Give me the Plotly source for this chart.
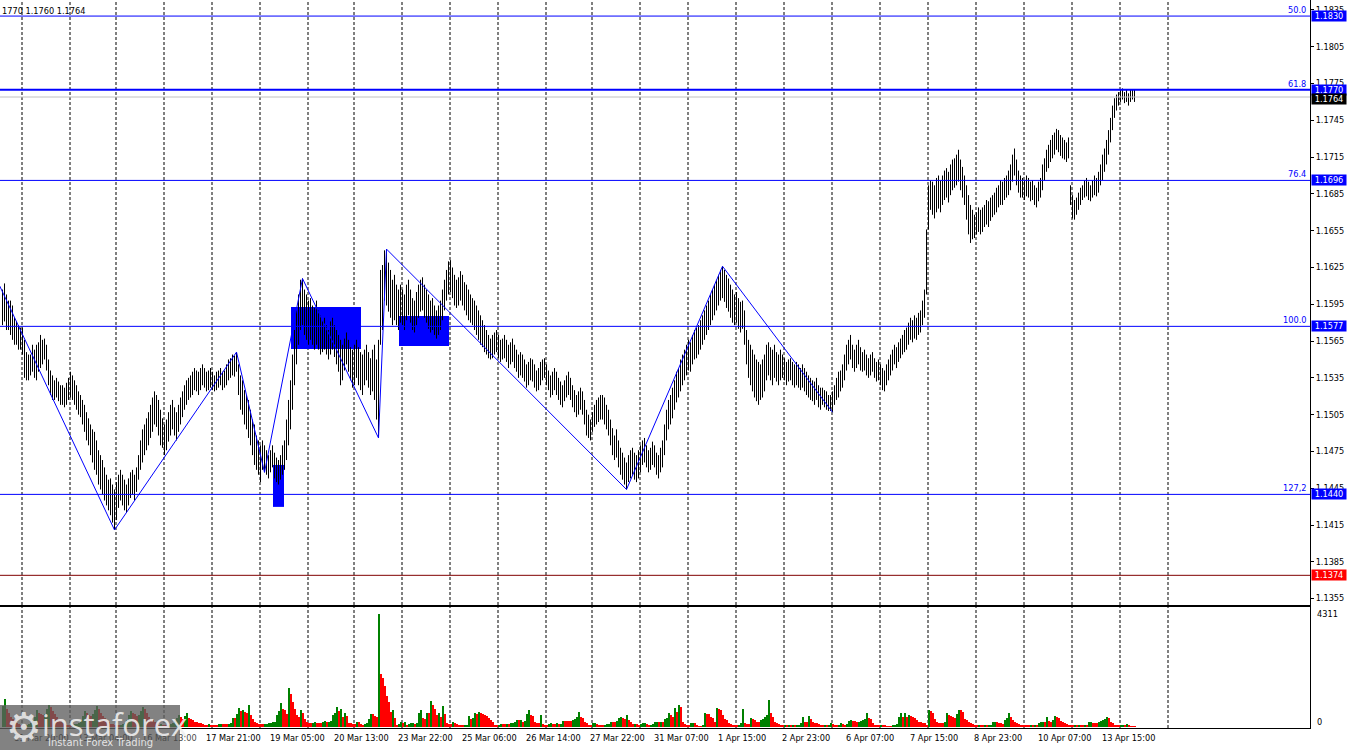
import plotly.graph_objects as go

# ---------------- data (EURUSD H1) ----------------
HIGH = [
1.1607,1.1612,1.1603,1.1598,1.1598,1.1594,1.1584,1.1581,1.1578,1.1576,
1.1576,1.1566,1.1556,1.1554,1.1554,1.1562,1.1558,1.1562,1.1564,1.1570,
1.1566,1.1567,1.1562,1.1550,1.1541,1.1537,1.1533,1.1535,1.1532,1.1529,
1.1529,1.1527,1.1531,1.1535,1.1540,1.1537,1.1533,1.1529,1.1524,1.1521,
1.1517,1.1513,1.1507,1.1502,1.1497,1.1493,1.1491,1.1484,1.1476,1.1472,
1.1468,1.1462,1.1456,1.1452,1.1453,1.1448,1.1444,1.1450,1.1456,1.1460,
1.1456,1.1452,1.1448,1.1453,1.1458,1.1460,1.1456,1.1462,1.1472,1.1484,
1.1493,1.1497,1.1502,1.1507,1.1513,1.1519,1.1524,1.1521,1.1517,1.1509,
1.1502,1.1497,1.1501,1.1507,1.1513,1.1517,1.1511,1.1507,1.1513,1.1519,
1.1524,1.1529,1.1533,1.1535,1.1537,1.1540,1.1543,1.1541,1.1540,1.1543,
1.1546,1.1543,1.1540,1.1541,1.1543,1.1540,1.1537,1.1540,1.1541,1.1543,
1.1540,1.1541,1.1546,1.1550,1.1551,1.1554,1.1553,1.1556,1.1546,1.1537,
1.1533,1.1525,1.1521,1.1517,1.1509,1.1501,1.1497,1.1488,1.1484,1.1480,
1.1484,1.1480,1.1476,1.1472,1.1476,1.1480,1.1474,1.1470,1.1468,1.1472,
1.1480,1.1484,1.1501,1.1517,1.1533,1.1554,1.1574,1.1590,1.1603,1.1615,
1.1616,1.1607,1.1603,1.1598,1.1600,1.1594,1.1592,1.1598,1.1590,1.1586,
1.1582,1.1584,1.1578,1.1574,1.1581,1.1584,1.1578,1.1574,1.1570,1.1566,
1.1562,1.1567,1.1572,1.1566,1.1560,1.1558,1.1562,1.1566,1.1560,1.1556,
1.1554,1.1558,1.1562,1.1556,1.1551,1.1558,1.1562,1.1550,1.1566,1.1623,
1.1627,1.1639,1.1640,1.1629,1.1623,1.1615,1.1619,1.1611,1.1607,1.1611,
1.1607,1.1603,1.1611,1.1615,1.1607,1.1600,1.1598,1.1605,1.1611,1.1615,
1.1617,1.1611,1.1607,1.1603,1.1598,1.1600,1.1594,1.1590,1.1594,1.1598,
1.1607,1.1615,1.1623,1.1630,1.1631,1.1625,1.1619,1.1615,1.1617,1.1622,
1.1619,1.1613,1.1611,1.1607,1.1603,1.1600,1.1598,1.1594,1.1590,1.1586,
1.1582,1.1578,1.1574,1.1570,1.1567,1.1570,1.1572,1.1574,1.1570,1.1566,
1.1567,1.1570,1.1566,1.1562,1.1564,1.1567,1.1562,1.1558,1.1554,1.1556,
1.1554,1.1550,1.1546,1.1548,1.1551,1.1550,1.1546,1.1541,1.1543,1.1548,
1.1550,1.1551,1.1546,1.1541,1.1537,1.1540,1.1543,1.1540,1.1535,1.1532,
1.1529,1.1533,1.1537,1.1540,1.1535,1.1529,1.1525,1.1521,1.1524,1.1527,
1.1524,1.1517,1.1509,1.1505,1.1501,1.1507,1.1513,1.1517,1.1519,1.1521,
1.1521,1.1519,1.1513,1.1509,1.1501,1.1494,1.1488,1.1493,1.1484,1.1478,
1.1474,1.1470,1.1466,1.1472,1.1476,1.1478,1.1474,1.1472,1.1476,1.1480,
1.1484,1.1486,1.1480,1.1476,1.1478,1.1483,1.1480,1.1474,1.1472,1.1478,
1.1484,1.1497,1.1509,1.1517,1.1521,1.1527,1.1533,1.1540,1.1543,1.1550,
1.1554,1.1558,1.1562,1.1566,1.1564,1.1570,1.1574,1.1576,1.1578,1.1582,
1.1586,1.1590,1.1594,1.1598,1.1603,1.1607,1.1611,1.1615,1.1619,1.1623,
1.1626,1.1623,1.1619,1.1616,1.1611,1.1607,1.1603,1.1605,1.1600,1.1597,
1.1598,1.1590,1.1574,1.1566,1.1562,1.1558,1.1554,1.1550,1.1548,1.1546,
1.1550,1.1554,1.1562,1.1564,1.1560,1.1558,1.1562,1.1556,1.1554,1.1558,
1.1554,1.1551,1.1548,1.1550,1.1551,1.1548,1.1546,1.1548,1.1546,1.1543,
1.1546,1.1543,1.1540,1.1537,1.1535,1.1533,1.1532,1.1535,1.1529,1.1527,
1.1527,1.1525,1.1524,1.1521,1.1521,1.1524,1.1529,1.1535,1.1540,1.1541,
1.1546,1.1554,1.1562,1.1566,1.1570,1.1562,1.1558,1.1562,1.1566,1.1560,
1.1556,1.1558,1.1554,1.1551,1.1554,1.1556,1.1551,1.1548,1.1550,1.1546,
1.1543,1.1541,1.1546,1.1550,1.1554,1.1558,1.1562,1.1560,1.1564,1.1567,
1.1570,1.1574,1.1576,1.1580,1.1584,1.1582,1.1586,1.1584,1.1588,1.1590,
1.1598,1.1607,1.1656,1.1692,1.1696,1.1695,1.1692,1.1698,1.1700,1.1696,
1.1700,1.1704,1.1706,1.1703,1.1709,1.1713,1.1714,1.1717,1.1721,1.1713,
1.1707,1.1700,1.1692,1.1684,1.1676,1.1672,1.1668,1.1670,1.1674,1.1672,
1.1674,1.1676,1.1680,1.1679,1.1682,1.1684,1.1686,1.1690,1.1692,1.1696,
1.1695,1.1698,1.1700,1.1704,1.1709,1.1717,1.1722,1.1713,1.1704,1.1700,
1.1698,1.1696,1.1700,1.1698,1.1695,1.1696,1.1692,1.1690,1.1695,1.1698,
1.1709,1.1714,1.1721,1.1725,1.1729,1.1733,1.1735,1.1738,1.1737,1.1733,
1.1731,1.1729,1.1727,1.1731,1.1692,1.1684,1.1680,1.1682,1.1686,1.1690,
1.1692,1.1696,1.1698,1.1695,1.1692,1.1696,1.1700,1.1698,1.1703,1.1709,
1.1717,1.1722,1.1729,1.1737,1.1747,1.1757,1.1763,1.1766,1.1768,1.1770,
1.1771,1.1768,1.1770,1.1767,1.1770,1.1770,1.1770,
]

LOW = [
1.1578,1.1581,1.1574,1.1574,1.1570,1.1566,1.1562,1.1562,1.1558,1.1558,
1.1554,1.1535,1.1533,1.1533,1.1537,1.1540,1.1535,1.1533,1.1540,1.1543,
1.1546,1.1550,1.1541,1.1529,1.1521,1.1517,1.1517,1.1519,1.1516,1.1513,
1.1513,1.1511,1.1513,1.1517,1.1519,1.1517,1.1513,1.1509,1.1505,1.1503,
1.1497,1.1491,1.1484,1.1480,1.1472,1.1466,1.1460,1.1456,1.1448,1.1444,
1.1440,1.1435,1.1431,1.1427,1.1423,1.1417,1.1411,1.1419,1.1429,1.1435,
1.1431,1.1427,1.1425,1.1431,1.1437,1.1440,1.1435,1.1442,1.1452,1.1460,
1.1466,1.1472,1.1476,1.1480,1.1486,1.1491,1.1497,1.1495,1.1488,1.1480,
1.1478,1.1472,1.1476,1.1483,1.1488,1.1493,1.1488,1.1484,1.1491,1.1497,
1.1503,1.1509,1.1513,1.1517,1.1519,1.1521,1.1525,1.1524,1.1521,1.1525,
1.1529,1.1527,1.1524,1.1525,1.1527,1.1525,1.1524,1.1525,1.1527,1.1529,
1.1525,1.1527,1.1529,1.1533,1.1535,1.1537,1.1536,1.1540,1.1521,1.1509,
1.1505,1.1497,1.1493,1.1486,1.1480,1.1472,1.1464,1.1460,1.1456,1.1450,
1.1460,1.1458,1.1456,1.1453,1.1458,1.1462,1.1453,1.1450,1.1448,1.1452,
1.1456,1.1460,1.1468,1.1480,1.1493,1.1509,1.1529,1.1546,1.1562,1.1574,
1.1578,1.1570,1.1566,1.1562,1.1566,1.1562,1.1558,1.1562,1.1558,1.1554,
1.1556,1.1558,1.1554,1.1550,1.1554,1.1558,1.1552,1.1546,1.1540,1.1529,
1.1533,1.1541,1.1546,1.1540,1.1533,1.1527,1.1529,1.1535,1.1529,1.1525,
1.1521,1.1529,1.1533,1.1527,1.1521,1.1524,1.1517,1.1501,1.1486,1.1562,
1.1574,1.1598,1.1594,1.1589,1.1584,1.1578,1.1582,1.1578,1.1574,1.1580,
1.1578,1.1574,1.1582,1.1586,1.1580,1.1574,1.1572,1.1578,1.1584,1.1589,
1.1590,1.1584,1.1580,1.1575,1.1572,1.1574,1.1570,1.1567,1.1570,1.1574,
1.1582,1.1590,1.1598,1.1603,1.1605,1.1600,1.1594,1.1592,1.1594,1.1598,
1.1594,1.1590,1.1586,1.1582,1.1580,1.1578,1.1574,1.1570,1.1566,1.1562,
1.1560,1.1556,1.1554,1.1551,1.1550,1.1551,1.1554,1.1556,1.1551,1.1548,
1.1550,1.1551,1.1548,1.1543,1.1546,1.1548,1.1543,1.1540,1.1535,1.1537,
1.1535,1.1532,1.1527,1.1529,1.1533,1.1532,1.1527,1.1524,1.1525,1.1529,
1.1533,1.1535,1.1529,1.1525,1.1519,1.1521,1.1525,1.1521,1.1517,1.1513,
1.1511,1.1516,1.1519,1.1521,1.1517,1.1511,1.1507,1.1503,1.1505,1.1509,
1.1505,1.1497,1.1488,1.1486,1.1484,1.1491,1.1495,1.1497,1.1499,1.1501,
1.1501,1.1497,1.1493,1.1488,1.1480,1.1472,1.1468,1.1470,1.1462,1.1456,
1.1452,1.1448,1.1444,1.1450,1.1453,1.1456,1.1452,1.1450,1.1453,1.1458,
1.1464,1.1466,1.1462,1.1458,1.1460,1.1464,1.1462,1.1456,1.1453,1.1458,
1.1462,1.1472,1.1484,1.1493,1.1497,1.1502,1.1509,1.1515,1.1519,1.1524,
1.1529,1.1533,1.1537,1.1541,1.1540,1.1546,1.1550,1.1551,1.1554,1.1558,
1.1562,1.1566,1.1570,1.1574,1.1578,1.1582,1.1586,1.1590,1.1594,1.1598,
1.1600,1.1597,1.1592,1.1589,1.1584,1.1580,1.1578,1.1580,1.1575,1.1572,
1.1575,1.1562,1.1546,1.1535,1.1529,1.1524,1.1519,1.1516,1.1513,1.1517,
1.1519,1.1524,1.1533,1.1537,1.1533,1.1529,1.1535,1.1532,1.1529,1.1533,
1.1535,1.1533,1.1529,1.1532,1.1533,1.1529,1.1527,1.1529,1.1527,1.1525,
1.1527,1.1524,1.1521,1.1519,1.1517,1.1516,1.1513,1.1517,1.1511,1.1509,
1.1513,1.1511,1.1509,1.1508,1.1508,1.1507,1.1513,1.1517,1.1519,1.1524,
1.1527,1.1533,1.1541,1.1546,1.1550,1.1543,1.1540,1.1543,1.1546,1.1541,
1.1540,1.1541,1.1537,1.1535,1.1537,1.1540,1.1535,1.1532,1.1533,1.1529,
1.1525,1.1524,1.1529,1.1533,1.1537,1.1541,1.1546,1.1543,1.1548,1.1551,
1.1554,1.1556,1.1558,1.1562,1.1566,1.1564,1.1567,1.1566,1.1570,1.1572,
1.1578,1.1584,1.1603,1.1656,1.1672,1.1668,1.1665,1.1670,1.1673,1.1670,
1.1676,1.1680,1.1682,1.1678,1.1684,1.1688,1.1690,1.1692,1.1695,1.1688,
1.1682,1.1676,1.1664,1.1652,1.1645,1.1648,1.1649,1.1652,1.1654,1.1652,
1.1654,1.1658,1.1660,1.1658,1.1663,1.1666,1.1668,1.1670,1.1674,1.1676,
1.1676,1.1680,1.1682,1.1684,1.1688,1.1695,1.1700,1.1692,1.1686,1.1682,
1.1682,1.1680,1.1683,1.1682,1.1679,1.1680,1.1676,1.1674,1.1679,1.1682,
1.1688,1.1696,1.1703,1.1706,1.1711,1.1714,1.1717,1.1721,1.1719,1.1716,
1.1714,1.1713,1.1711,1.1714,1.1676,1.1665,1.1664,1.1668,1.1672,1.1676,
1.1680,1.1682,1.1683,1.1680,1.1679,1.1682,1.1684,1.1683,1.1686,1.1692,
1.1696,1.1703,1.1709,1.1717,1.1727,1.1737,1.1747,1.1753,1.1757,1.1760,
1.1762,1.1759,1.1760,1.1757,1.1760,1.1762,1.1760,
]

VOLUME = [
800,1060,700,550,400,300,250,150,
100,90,80,70,90,110,150,250,400,650,550,500,450,500,700,850,750,600,500,400,300,250,150,100,
90,80,70,80,100,120,160,280,420,600,520,450,420,480,650,800,700,550,420,350,280,200,120,
120,90,80,70,90,110,150,260,450,620,540,480,420,460,600,750,680,520,400,320,260,200,130,80,
100,80,70,70,90,110,140,220,350,450,380,300,420,520,350,300,250,200,180,150,150,100,90,80,
100,90,90,90,90,100,110,110,110,110,120,140,
350,330,500,720,600,650,560,520,840,450,300,200,
150,120,110,100,110,130,150,160,180,200,
450,600,900,700,650,500,1490,1260,950,690,460,380,
640,520,300,200,160,150,160,180,150,150,150,200,220,180,200,230,450,
550,760,600,690,380,530,420,150,150,120,
100,190,190,100,90,120,150,300,500,480,420,400,4311,
2020,1870,1560,1180,950,570,650,340,80,110,190,
150,180,80,130,140,150,130,140,530,650,340,300,530,520,990,840,690,460,530,
380,800,500,140,120,100,
200,140,120,80,80,76,80,90,420,300,350,520,500,560,540,500,450,420,330,250,200,80,76,80,
110,100,100,110,100,140,150,200,270,260,270,200,240,500,650,470,420,200,150,140,460,
100,90,80,100,140,120,100,140,100,120,
240,240,240,240,230,270,320,400,560,400,350,200,150,90,90,
150,160,100,90,80,80,90,100,110,200,200,200,220,330,400,330,300,460,250,200,
100,120,110,90,110,140,150,100,80,90,100,
180,200,190,200,180,290,330,520,450,400,710,580,840,750,200,
100,80,80,140,150,140,60,50,50,60,
520,500,480,400,330,200,740,700,640,460,300,250,150,100,90,70,60,80,
140,700,140,120,110,360,300,260,200,180,270,300,390,470,1030,520,400,200,150,120,
70,60,70,60,70,70,80,60,70,80,
140,390,200,200,420,300,200,150,150,100,80,80,90,80,90,
140,100,90,80,90,140,100,80,100,240,260,230,220,180,200,220,250,320,520,330,300,150,90,80,70,
90,70,60,50,40,40,60,80,120,380,520,390,520,400,460,420,400,330,260,200,200,150,140,90,
650,600,520,300,200,150,140,140,180,520,460,420,380,330,500,650,650,580,300,260,200,140,120,80,
70,80,70,60,70,60,70,80,180,200,180,150,140,130,270,330,520,400,260,200,150,120,
90,80,70,70,60,70,70,80,80,140,180,200,200,390,230,200,250,420,400,330,230,180,140,100,
80,70,70,80,70,80,80,70,80,80,180,190,150,140,140,200,220,270,300,390,330,200,150,80,70,60,80,90,80,110,60,40,40,40,
]

# time-axis labels and the bars they sit on
X_LABELS = ["11 Mar 20:00", "13 Mar 04:00", "16 Mar 13:00", "17 Mar 21:00", "19 Mar 05:00",
            "20 Mar 13:00", "23 Mar 22:00", "25 Mar 06:00", "26 Mar 14:00", "27 Mar 22:00",
            "31 Mar 07:00", "1 Apr 15:00", "2 Apr 23:00", "6 Apr 07:00", "7 Apr 15:00",
            "8 Apr 23:00", "10 Apr 07:00", "13 Apr 15:00"]
X_LABEL_BARS = [4, 36, 68, 100, 132, 164, 196, 228, 260, 292, 324, 356, 388, 420, 452, 484, 516, 548]

# first bar of each trading day (vertical grid)
DAY_START_BARS = [8, 32, 55, 79, 103, 127, 151, 174, 198, 222, 246, 270, 293, 317, 341,
                  365, 389, 413, 437, 461, 485, 509, 533, 557, 581]

PRICE_TICKS = [1.1355, 1.1385, 1.1415, 1.1445, 1.1475, 1.1505, 1.1535, 1.1565, 1.1595,
               1.1625, 1.1655, 1.1685, 1.1715, 1.1745, 1.1775, 1.1805, 1.1835]

# Fibonacci levels
FIB_PRICES = [1.1830, 1.1770, 1.1696, 1.1577, 1.1440]
FIB_NAMES = ["50.0", "61.8", "76.4", "100.0", "127,2"]
SUPPORT_PRICE = 1.1374
BID_PRICE = 1.1764
HEADER = "1770 1.1760 1.1764"
VOLUME_MAX_LABEL = 4311

# zigzag wave (bar index, price)
ZZ_BARS = [-2, 56, 117, 131, 150, 188, 192, 312, 360, 415]
ZZ_PRICES = [1.1612, 1.1411, 1.1556, 1.1458, 1.1616, 1.1486, 1.1640, 1.1444, 1.1626, 1.1507]

# filled boxes (bar from, bar to, price low, price high)
BOXES = [(144.25, 179.25, 1.15586, 1.15928),
         (198.25, 223.25, 1.15610, 1.15855),
         (135.25, 140.75, 1.14298, 1.14640)]

# ---------------- figure ----------------
FONT = "DejaVu Sans"
FS = 8.2
BLUE = "#0000FF"
N = len(HIGH)
bars = list(range(N))

seg_x, seg_y = [], []
for i, h, l in zip(bars, HIGH, LOW):
    seg_x += [i, i, None]
    seg_y += [l, h, None]

vol_colors = []
prev = None
for v in VOLUME:
    vol_colors.append("#008000" if (prev is None or v > prev) else "#FF0000")
    prev = v

fig = go.Figure()
fig.add_trace(go.Scatter(x=seg_x, y=seg_y, mode="lines", line=dict(color="black", width=1),
                         xaxis="x", yaxis="y", hoverinfo="skip", showlegend=False))
fig.add_trace(go.Scatter(x=ZZ_BARS, y=ZZ_PRICES, mode="lines", line=dict(color=BLUE, width=1),
                         xaxis="x", yaxis="y", hoverinfo="skip", showlegend=False))
fig.add_trace(go.Bar(x=bars, y=VOLUME, width=1, offset=-0.25,
                     marker=dict(color=vol_colors, line=dict(width=0)),
                     xaxis="x2", yaxis="y2", hoverinfo="skip", showlegend=False))

XR = [-1.25, 653.75]
PLOT_H = 728.0
price_bottom = 1 - 605 / PLOT_H
vol_top = (PLOT_H - 607) / PLOT_H

fig.update_layout(
    width=1350, height=750,
    margin=dict(l=0, r=40, t=0, b=22),
    paper_bgcolor="white", plot_bgcolor="white",
    showlegend=False, bargap=0, hovermode=False,
    xaxis=dict(domain=[0, 1], range=XR, anchor="y", showgrid=False, zeroline=False,
               showticklabels=False, ticks="", showline=True, linecolor="black", linewidth=1),
    yaxis=dict(domain=[price_bottom, 1], range=[1.13498, 1.18431], anchor="x", side="right",
               tickvals=PRICE_TICKS, ticktext=[f"{t:.4f}" for t in PRICE_TICKS],
               ticks="outside", ticklen=3, tickcolor="black", showline=True, linecolor="black",
               linewidth=1, showgrid=False, zeroline=False,
               tickfont=dict(family=FONT, size=FS, color="black")),
    xaxis2=dict(domain=[0, 1], range=XR, anchor="y2", showgrid=False, zeroline=False,
                showticklabels=False, ticks="", showline=True, mirror=True,
                linecolor="black", linewidth=1),
    yaxis2=dict(domain=[0, vol_top], range=[-38, 4578], anchor="x2", side="right",
                showticklabels=False, ticks="", showline=True, linecolor="black", linewidth=1,
                showgrid=False, zeroline=False),
)

shapes = []
# boxes (background)
for x0, x1, p0, p1 in BOXES:
    shapes.append(dict(type="rect", xref="x", yref="y", x0=x0, x1=x1, y0=p0, y1=p1,
                       fillcolor=BLUE, line=dict(width=0), layer="below"))
# vertical dashed grid in both panes
for d in DAY_START_BARS:
    gx = d + 1.75
    shapes.append(dict(type="line", xref="x", yref="y domain", x0=gx, x1=gx, y0=0, y1=1,
                       line=dict(color="black", width=1, dash="3px,2px"), layer="below"))
    shapes.append(dict(type="line", xref="x2", yref="y2 domain", x0=gx, x1=gx, y0=0, y1=1,
                       line=dict(color="black", width=1, dash="3px,2px"), layer="below"))
# horizontal levels
shapes.append(dict(type="line", xref="x domain", yref="y", x0=0, x1=1, y0=BID_PRICE, y1=BID_PRICE,
                   line=dict(color="#C0C0C0", width=1), layer="above"))
for p in FIB_PRICES:
    w = 2 if abs(p - 1.1770) < 1e-6 else 1
    shapes.append(dict(type="line", xref="x domain", yref="y", x0=0, x1=1, y0=p, y1=p,
                       line=dict(color=BLUE, width=w), layer="above"))
shapes.append(dict(type="line", xref="x domain", yref="y", x0=0, x1=1, y0=SUPPORT_PRICE, y1=SUPPORT_PRICE,
                   line=dict(color="#800000", width=1), layer="above"))
# watermark box
shapes.append(dict(type="rect", xref="paper", yref="paper", x0=0, x1=180 / 1310,
                   y0=(PLOT_H - 750) / PLOT_H, y1=(PLOT_H - 705) / PLOT_H,
                   fillcolor="rgba(95,95,95,0.78)", line=dict(width=0), layer="above"))

ann = []
# fib texts
for p, name in zip(FIB_PRICES, FIB_NAMES):
    ann.append(dict(xref="paper", yref="y", x=1, y=p, xanchor="right", yanchor="bottom",
                    xshift=-2, yshift=-1, text=name, showarrow=False,
                    font=dict(family=FONT, size=FS, color=BLUE)))
# price boxes on the scale
box_specs = [(p, BLUE, 0) for p in FIB_PRICES] + [(BID_PRICE, "black", -2), (SUPPORT_PRICE, "#FF0000", 0)]
for p, col, ys in box_specs:
    ann.append(dict(xref="paper", yref="y", x=1, y=p, xanchor="left", yanchor="middle",
                    xshift=1, yshift=ys, text=f"{p:.4f}", showarrow=False, bgcolor=col,
                    width=34, height=10, borderpad=0, align="center",
                    font=dict(family=FONT, size=FS, color="white")))
# header
ann.append(dict(xref="paper", yref="paper", x=0, y=1, xanchor="left", yanchor="top", yshift=-4,
                text=HEADER, showarrow=False, font=dict(family=FONT, size=FS, color="black")))
# volume scale
ann.append(dict(xref="paper", yref="y2", x=1, y=VOLUME_MAX_LABEL, xanchor="left", yanchor="middle",
                xshift=5, text=str(VOLUME_MAX_LABEL), showarrow=False,
                font=dict(family=FONT, size=FS, color="black")))
ann.append(dict(xref="paper", yref="y2", x=1, y=0, xanchor="left", yanchor="middle",
                xshift=5, yshift=5, text="0", showarrow=False,
                font=dict(family=FONT, size=FS, color="black")))
# time labels
for lab, b in zip(X_LABELS, X_LABEL_BARS):
    col = "#4a4a4a" if b < 90 else "black"
    ann.append(dict(xref="x2", yref="paper", x=b, y=(PLOT_H - 738) / PLOT_H, xanchor="left",
                    yanchor="middle", xshift=1, text=lab, showarrow=False,
                    font=dict(family=FONT, size=FS, color=col)))
# watermark texts
ann.append(dict(xref="paper", yref="paper", x=4 / 1310, y=(PLOT_H - 727) / PLOT_H, xanchor="left",
                yanchor="middle", text="\u2699", showarrow=False,
                font=dict(family="DejaVu Sans", size=40, color="rgba(235,235,235,0.9)")))
ann.append(dict(xref="paper", yref="paper", x=40 / 1310, y=(PLOT_H - 724) / PLOT_H, xanchor="left",
                yanchor="middle", text="instaforex", showarrow=False,
                font=dict(family="Open Sans", size=31, color="rgba(240,240,240,0.9)")))
ann.append(dict(xref="paper", yref="paper", x=46 / 1310, y=(PLOT_H - 742) / PLOT_H, xanchor="left",
                yanchor="middle", text="Instant Forex Trading", showarrow=False,
                font=dict(family="DejaVu Sans", size=10, color="rgba(240,240,240,0.9)")))

fig.update_layout(shapes=shapes, annotations=ann)
fig.write_html("out.html", config={"displayModeBar": False, "staticPlot": True},
               post_script="document.body.style.margin='0';document.body.style.padding='0';"
                           "document.body.style.overflow='hidden';")
